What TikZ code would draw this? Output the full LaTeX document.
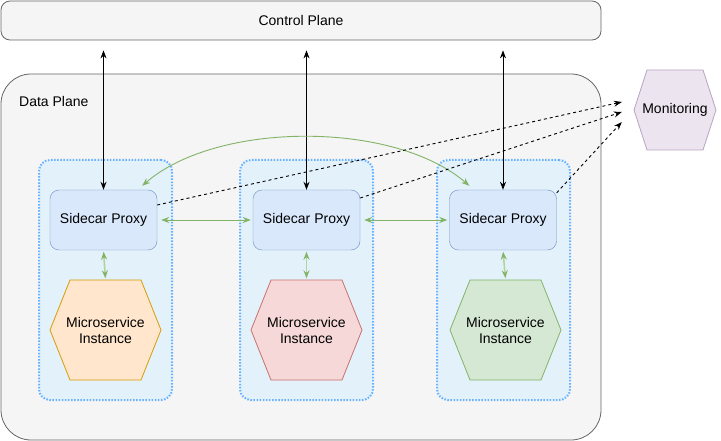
\documentclass[tikz,border=0pt]{standalone}
\usepackage{fontspec}
\setmainfont{Liberation Sans}
\usetikzlibrary{arrows.meta}

\definecolor{cpfill}{HTML}{F5F5F5}
\definecolor{cpline}{HTML}{666666}
\definecolor{grpfill}{HTML}{E3F1FB}
\definecolor{grpline}{HTML}{66B2FF}
\definecolor{pxfill}{HTML}{DAE8FC}
\definecolor{pxline}{HTML}{6C8EBF}
\definecolor{orfill}{HTML}{FFE6CC}
\definecolor{orline}{HTML}{D79B00}
\definecolor{rdfill}{HTML}{F5D8D7}
\definecolor{rdline}{HTML}{C8706D}
\definecolor{gnfill}{HTML}{D5E8D4}
\definecolor{gnline}{HTML}{82B366}
\definecolor{mofill}{HTML}{ECE4EF}
\definecolor{moline}{HTML}{B9A3C4}
\definecolor{lightgn}{HTML}{B3D59C}

\begin{document}
\begin{tikzpicture}[x=1pt,y=-1pt,
  font=\fontsize{14}{16}\selectfont,
  plane/.style={draw=cpline,fill=cpfill,line width=0.8pt,inner sep=0pt},
  grp/.style={draw=grpline,fill=grpfill,line width=2pt,dash pattern=on 1.5pt off 1.6pt,
    rounded corners=11pt,minimum width=133pt,minimum height=240pt},
  proxy/.style={draw=pxline,fill=pxfill,rounded corners=9pt,minimum width=107pt,
    minimum height=60pt,inner sep=0pt},
  hexlabel/.style={minimum width=111pt,minimum height=100pt,inner sep=0pt,align=center},
  ctl/.style={{Stealth[length=8pt,width=6pt]}-{Stealth[length=8pt,width=6pt]},line width=0.9pt},
  mesh/.style={{Stealth[length=8pt,width=6pt]}-{Stealth[length=8pt,width=6pt]},draw=gnline,line width=0.9pt},
  local/.style={{Stealth[length=8pt,width=6pt,color=gnline]}-{Stealth[length=8pt,width=6pt,color=gnline]},draw=lightgn,line width=1.6pt},
  mon/.style={-{Stealth[length=8pt,width=6pt]},dashed,line width=0.9pt}
]
\useasboundingbox (0,0) rectangle (721,441);

% Planes
\node[plane,rounded corners=9pt,minimum width=600pt,minimum height=39pt] (cp) at (301,20.5) {Control Plane};
\node[plane,rounded corners=30pt,minimum width=600pt,minimum height=366pt] (dp) at (301,257) {};
\node[anchor=west,inner sep=0pt] (dplabel) at (19,101) {Data Plane};

% Pod groups
\node[grp] (g1) at (105.5,280) {};
\node[grp] (g2) at (306.5,280) {};
\node[grp] (g3) at (503.5,280) {};

% Sidecar proxies
\node[proxy] (p1) at (103.5,220) {Sidecar Proxy};
\node[proxy] (p2) at (306.5,220) {Sidecar Proxy};
\node[proxy] (p3) at (503,220) {Sidecar Proxy};

% Microservice instances (hexagons)
\foreach \n/\x/\ln/\fl in {m1/105.5/orline/orfill, m2/306.5/rdline/rdfill, m3/505.5/gnline/gnfill}
{
    \draw[draw=\ln,fill=\fl,line width=0.8pt] (\x,330) ++(-55.5,0) -- ++(20,-50) -- ++(71,0)
      -- ++(20,50) -- ++(-20,50) -- ++(-71,0) -- cycle;
    \node[hexlabel] (\n) at (\x,330) {Microservice\\Instance};
}

% Monitoring
\draw[draw=moline,fill=mofill,line width=0.8pt] (675,110) ++(-41,0) -- ++(13,-40) -- ++(56,0)
  -- ++(13,40) -- ++(-13,40) -- ++(-56,0) -- cycle;
\node[hexlabel,minimum width=82pt,minimum height=80pt] (mo) at (675,110) {Monitoring};

% Control plane links
\foreach \i in {1,2,3}
{
    \draw[ctl,shorten <=10pt] (p\i.north |- cp.south) -- (p\i.north);
}

% Proxy to instance
\foreach \i in {1,2,3}
{
    \draw[local,shorten <=1.5pt,shorten >=1.5pt] (p\i.south) -- (m\i.north);
}

% Mesh traffic
\draw[mesh,shorten <=4pt,shorten >=2pt] (p1.east) -- (p2.west);
\draw[mesh,shorten <=4pt,shorten >=2pt] (p2.east) -- (p3.west);
\draw[mesh] ([xshift=-15pt,yshift=4pt]p1.north east) .. controls +(75,-65) and +(-75,-65) .. ([xshift=20pt,yshift=4pt]p3.north west);

% Telemetry
\draw[mon] ([yshift=15pt]p1.east) -- ([xshift=-12pt,yshift=8pt]mo.west);
\draw[mon] ([yshift=22pt]p2.east) -- ([xshift=-12pt,yshift=-2pt]mo.west);
\draw[mon] ([yshift=-3pt]p3.north east) -- ([xshift=-12pt,yshift=-12pt]mo.west);

\end{tikzpicture}
\end{document}
